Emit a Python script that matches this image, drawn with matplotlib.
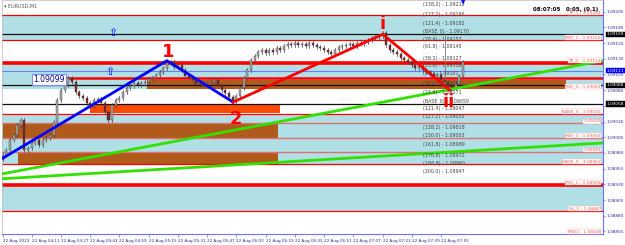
import matplotlib.pyplot as plt
from matplotlib.patches import Rectangle

# ---- data -------------------------------------------------------------
# minutes since 03:55, one candle every 2 minutes
bar_minutes = list(range(0, 253, 2))
closes = [
    1.08977, 1.08985, 1.09001, 1.09009, 1.09025, 1.09033, 1.08985, 1.08988,
    1.08996, 1.09001, 1.08993, 1.09001, 1.09004, 1.09009, 1.09029, 1.09064,
    1.09080, 1.09088, 1.09099, 1.09093, 1.09077, 1.09071, 1.09068, 1.09060,
    1.09055, 1.09064, 1.09066, 1.09060, 1.09045, 1.09033, 1.09056, 1.09064,
    1.09068, 1.09077, 1.09083, 1.09087, 1.09091, 1.09088, 1.09091, 1.09093,
    1.09098, 1.09099, 1.09104, 1.09109, 1.09115, 1.09123, 1.09125, 1.09117,
    1.09120, 1.09112, 1.09103, 1.09099, 1.09096, 1.09090, 1.09088, 1.09090,
    1.09091, 1.09093, 1.09096, 1.09087, 1.09080, 1.09075, 1.09069, 1.09061,
    1.09071, 1.09083, 1.09099, 1.09112, 1.09128, 1.09134, 1.09141, 1.09144,
    1.09139, 1.09144, 1.09141, 1.09147, 1.09144, 1.09150, 1.09154, 1.09152,
    1.09155, 1.09152, 1.09154, 1.09150, 1.09155, 1.09152, 1.09149, 1.09147,
    1.09144, 1.09141, 1.09138, 1.09144, 1.09149, 1.09150, 1.09152, 1.09154,
    1.09150, 1.09155, 1.09154, 1.09157, 1.09160, 1.09163, 1.09165, 1.09166,
    1.09171, 1.09152, 1.09144, 1.09141, 1.09138, 1.09131, 1.09128, 1.09125,
    1.09120, 1.09115, 1.09119, 1.09112, 1.09109, 1.09106, 1.09103, 1.09104,
    1.09096, 1.09093, 1.09087, 1.09083, 1.09090, 1.09103, 1.09125,
]
first_open = 1.08970

# zones (price ranges)
blue_zones = [(1.09160, 1.09200), (1.09082, 1.09123), (1.08963, 1.09042), (1.08888, 1.08929)]
# rectangles: (start minute, end minute, low, high, colour)
boxes = [
    (79.1, 308.4, 1.09082, 1.09096, "#b05a1c"),
    (47.9, 151.9, 1.09043, 1.09057, "#ff4a00"),
    (0.3, 150.8, 1.09004, 1.09027, "#b05a1c"),
    (8.5, 150.8, 1.08963, 1.08981, "#b05a1c"),
]

red_levels = [1.09200, 1.09160, 1.09042, 1.08963, 1.08888]
thick_red_levels = [1.09124, 1.08929]
pink_levels = [1.09027, 1.09004, 1.08981]
black_levels = [1.09169, 1.09088, 1.09058]
bid_level = 1.09111
label_level = 1.09100

level_tags = [
    ("TP_1 - 1.09201", 1.09200), ("MID_1 - 1.09160", 1.09160),
    ("TP_0 - 1.09124", 1.09124), ("MID_0 - 1.09082", 1.09082),
    ("BASE_0 - 1.09041", 1.09042), ("1.09028", 1.09027),
    ("MID_0 - 1.09004", 1.09004), ("1.08981", 1.08981),
    ("BASE_0 - 1.08962", 1.08963), ("MID_1 - 1.08929", 1.08929),
    ("SL_1 - 1.08887", 1.08888), ("MID2 - 1.08848", 1.08851),
]

fib_tags = [
    ("(138.2) - 1.09212", 1.09216), ("(127.2) - 1.09196", 1.09200),
    ("(121.4) - 1.09182", 1.09186), ("(BASE_0) - 1.09170", 1.09174),
    ("(78.6) - 1.09157", 1.09161), ("(61.8) - 1.09145", 1.09149),
    ("(38.2) - 1.09127", 1.09131), ("(23.6) - 1.09116", 1.09119),
    ("(0.0) - 1.09101", 1.09107), ("(50.0) - 1.09087", 1.09091),
    ("(23.6) - 1.09071", 1.09076), ("(BASE_0) - 1.09059", 1.09063),
    ("(121.4) - 1.09047", 1.09051), ("(127.2) - 1.09035", 1.09038),
    ("(138.2) - 1.09018", 1.09021), ("(150.0) - 1.09003", 1.09008),
    ("(161.8) - 1.08989", 1.08994), ("(176.8) - 1.08972", 1.08976),
    ("(188.8) - 1.08960", 1.08964), ("(200.0) - 1.08947", 1.08951),
]

# trend lines (minute, price) anchors
blue_leg = ([0.3, 90.0, 126.2], [1.08972, 1.09127, 1.09061])
red_leg = ([126.2, 208.2, 244.9], [1.09061, 1.09169, 1.09080])
green_1 = ([0.3, 328.7], [1.08947, 1.09127])
green_2 = ([0.3, 328.7], [1.08939, 1.08996])

tick_minutes = list(range(0, 241, 16))
tick_labels = ["22 Aug 2023", "22 Aug 04:11", "22 Aug 04:27", "22 Aug 04:43",
               "22 Aug 04:59", "22 Aug 05:15", "22 Aug 05:31", "22 Aug 05:47",
               "22 Aug 06:03", "22 Aug 06:19", "22 Aug 06:35", "22 Aug 06:51",
               "22 Aug 07:07", "22 Aug 07:23", "22 Aug 07:39", "22 Aug 07:55"]
price_ticks = [1.08855, 1.08880, 1.08905, 1.08930, 1.08955, 1.08980, 1.09005,
               1.09030, 1.09055, 1.09080, 1.09105, 1.09130, 1.09155, 1.09180, 1.09205]
axis_boxes = [("1.09169", 1.09169, "black"), ("1.09111", 1.09111, "#0000ff"),
              ("1.09088", 1.09088, "black"), ("1.09058", 1.09058, "black")]

# ---- figure -----------------------------------------------------------
W, H = 625, 245
fig = plt.figure(figsize=(W / 100, H / 100), dpi=100)
ax = fig.add_axes([2 / W, 11 / H, 601 / W, 234 / H])
XMIN, XMAX = -0.3, 328.7
ax.set_xlim(XMIN, XMAX)
ax.set_ylim(1.08851, 1.092236)

LIGHT = "#b0e0e6"
for lo, hi in blue_zones:
    ax.axhspan(lo, hi, color=LIGHT, lw=0, zorder=0)

for x0, x1, lo, hi, c in boxes:
    ax.add_patch(Rectangle((x0, lo), x1 - x0, hi - lo, color=c, lw=0, zorder=1))

for p in red_levels:
    ax.axhline(p, color="#ff0000", lw=0.9, zorder=2)
for p in thick_red_levels:
    ax.axhline(p, color="#ff0000", lw=2.6, zorder=2)
for p in pink_levels:
    ax.axhline(p, color="#e07070", lw=1.0, zorder=2)
for p in black_levels:
    ax.axhline(p, color="#111111", lw=0.9, zorder=2)
ax.axhline(bid_level, color="#6a7dff", lw=0.8, zorder=2)
ax.plot([20, XMAX], [label_level, label_level], color="#ff0000", lw=1.8, zorder=2)

# candles
opens = [first_open] + closes[:-1]
for m, o, c in zip(bar_minutes, opens, closes):
    hi = max(o, c) + 0.00003
    lo = min(o, c) - 0.00003
    col = "#a8a8a8" if c >= o else "#7a2020"
    ax.plot([m, m], [lo, hi], color="#444444", lw=0.5, zorder=4)
    ax.add_patch(Rectangle((m - 0.55, min(o, c)), 1.1, max(abs(c - o), 0.000006),
                           facecolor=col, edgecolor="#444444", lw=0.3, zorder=5))
ax.plot([242, 242], [1.09091, 1.09171], color="#777777", lw=0.6, zorder=4)

# trend lines
ax.plot(*green_1, color="#33e000", lw=2.0, zorder=6)
ax.plot(*green_2, color="#33e000", lw=2.0, zorder=6)
ax.plot(*blue_leg, color="#0000ff", lw=2.0, zorder=6)
ax.plot(*red_leg, color="#ff0000", lw=2.0, zorder=6)

# wave labels
big = dict(color="#ff0000", fontsize=13, fontweight="bold", ha="center", va="center", zorder=8)
ax.text(90.7, 1.09141, "1", **big)
ax.text(127.8, 1.09034, "2", **big)
ax.text(208.3, 1.09186, "i", **big)
ax.text(244.4, 1.09061, "ii", **big)
for m, p in [(60.5, 1.09171), (58.8, 1.09109)]:
    ax.text(m, p, "\u21e7", color="#0000ff", fontsize=8, ha="center", va="center", zorder=8)

ax.text(25.5, 1.09097, "1.09099", color="#000080", fontsize=5.5, ha="center", va="center",
        zorder=9, bbox=dict(boxstyle="square,pad=0.15", fc="white", ec="#7a8cff", lw=0.8))

for t, p in fib_tags:
    ax.text(230.2, p, t, color="#444444", fontsize=3.4, ha="left", va="center", zorder=7)

for t, p in level_tags:
    ax.text(327.6, p + 0.000005, t, color="#ff5a5a", fontsize=3.2, ha="right", va="bottom",
            zorder=7, bbox=dict(boxstyle="square,pad=0.1", fc="white", ec="#ffb0b0", lw=0.3))

# axes styling
ax.yaxis.tick_right()
ax.set_yticks(price_ticks)
ax.set_yticklabels([f"{p:.5f}" for p in price_ticks])
ax.set_xticks(tick_minutes)
ax.set_xticklabels(tick_labels, ha="left")
ax.tick_params(axis="y", length=1.5, width=0.5, color="#6a6aff", labelsize=3.1,
               labelcolor="#2a2a9a", pad=0.8)
ax.tick_params(axis="x", length=2, width=0.5, color="#6a6aff", labelsize=3.0,
               labelcolor="#2a2a9a", pad=1.5)
for s in ["right", "bottom"]:
    ax.spines[s].set_color("#7070ff")
    ax.spines[s].set_linewidth(0.8)
for s in ["left", "top"]:
    ax.spines[s].set_color("#bbbbbb")
    ax.spines[s].set_linewidth(0.5)

for t, p, c in axis_boxes:
    ax.text(1.006, p, t, transform=ax.get_yaxis_transform(), color="white", fontsize=3.1,
            ha="left", va="center", zorder=10, clip_on=False,
            bbox=dict(boxstyle="square,pad=0.15", fc=c, ec=c, lw=0.3))

fig.text(4 / W, 1 - 6 / H, "\u25be EURUSD,M1", color="#555555", fontsize=3.5, va="center")
fig.text(598 / W, 1 - 10 / H, "08:07:05   0:05, (0.1)", color="black", fontsize=4,
         fontweight="bold", ha="right", va="center")
fig.text(463 / W, 1 - 3 / H, "\u25bc", color="#0000ff", fontsize=4, ha="center", va="center")

fig.savefig("out.png", dpi=100)
